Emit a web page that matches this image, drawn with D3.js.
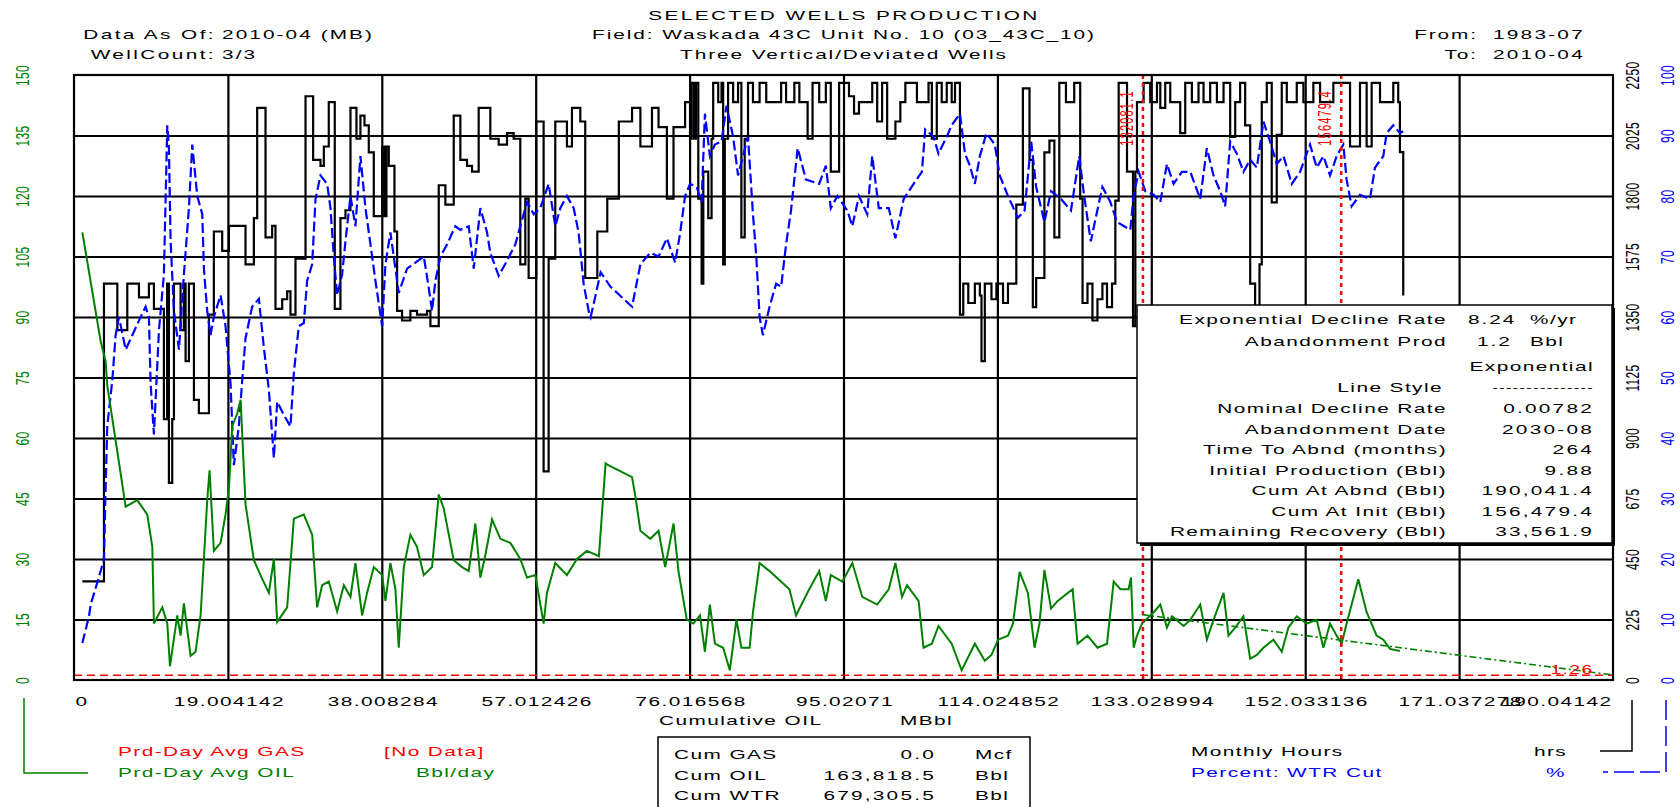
<!DOCTYPE html>
<html><head><meta charset="utf-8">
<script src="https://cdn.jsdelivr.net/npm/d3@7"></script>
<style>body{margin:0;background:#fff}svg{display:block}text{font-family:"Liberation Sans",Arial,sans-serif}</style>
</head><body><svg id="c" width="1680" height="807"></svg>
<script>
// ---------- data ----------
const xTickValues = [0,19.004142,38.008284,57.012426,76.016568,95.02071,114.024852,133.028994,152.033136,171.037278,190.04142];
const xTickLabels = ["0","19.004142","38.008284","57.012426","76.016568","95.02071","114.024852","133.028994","152.033136","171.037278","190.04142"];
const oilTicks = [0,15,30,45,60,75,90,105,120,135,150];
const hrsTicks = [0,225,450,675,900,1125,1350,1575,1800,2025,2250];
const wcTicks = [0,10,20,30,40,50,60,70,80,90,100];

// Prd-Day Avg OIL (Bbl/day) vs cumulative oil (MBbl)
const oilRate = [[1.03,111],[3.29,84],[3.91,79],[4.11,73],[4.94,62],[6.38,43],[7.81,44.6],[9.05,41],[9.67,33],[9.87,14],[10.9,18],[11.52,14],[11.85,3.4],[12.75,16],[13.16,11],[13.57,19],[14.4,6],[15.01,7],[15.63,16],[16.04,30],[16.45,44.6],[16.74,52],[17.27,32],[18.1,34],[18.71,41],[19.13,47.5],[19.54,63],[20.15,66],[20.57,69.5],[21.18,43.6],[22.21,29.7],[23.03,26],[24.06,21.6],[24.68,30],[25.09,14.4],[26.32,18],[27.15,40],[28.38,41],[29.41,36],[30.02,18],[30.64,23.5],[31.46,24.4],[32.49,17],[33.32,23.5],[34.14,20.6],[34.75,29],[35.58,16],[36.19,21.6],[37.02,28],[38.05,26],[38.46,19.6],[39.07,29],[39.69,22.5],[40.1,8],[40.72,28],[41.54,36],[42.36,33],[43.19,26],[44.21,28],[45.04,46],[45.65,42.6],[46.89,29.7],[47.92,28],[48.74,27],[49.56,38.8],[50.18,25.4],[50.8,31],[51.62,39.8],[52.65,35],[53.88,34],[55.11,30],[55.94,25.4],[56.97,26],[57.99,14],[58.4,21.6],[59.43,29],[60.87,26],[62.11,30],[63.34,32],[64.82,30.7],[65.64,53.7],[65.85,53.4],[68.91,50.3],[69.32,45.5],[69.94,37],[71.16,35],[72.18,37],[73.0,28],[74.03,38.8],[74.64,27],[75.66,15],[76.48,14],[77.3,16],[77.91,7],[78.52,18.7],[79.14,9],[80.16,8],[80.98,2.4],[81.8,15],[82.41,8],[83.43,8],[83.84,16.8],[84.66,29],[85.89,27],[88.34,22.5],[89.16,16],[90.79,22.5],[92.02,27],[92.84,19.6],[93.45,26],[94.88,24.4],[96.11,29],[97.34,20.6],[99.18,18.7],[100.61,22.5],[101.43,29],[102.25,20.6],[102.86,23.5],[104.29,19.6],[104.9,8],[105.93,9],[106.75,13.4],[108.38,9],[109.61,2.4],[111.24,9],[112.47,4.8],[113.29,6.2],[114.11,10],[115.33,11],[115.95,14],[116.77,26.8],[117.79,21.6],[118.61,8],[119.22,14],[119.83,27.3],[120.65,17.7],[121.47,19.6],[123.31,22.5],[123.92,9],[125.15,11],[126.38,8],[127.56,9],[128.38,24.4],[129.21,22.5],[130.23,22.5],[130.52,25.4],[130.85,8],[131.26,11],[131.88,14],[133.32,16.8],[134.14,18.7],[134.96,13],[135.58,15.8],[137.02,13.4],[137.84,14.9],[139.07,18.7],[139.89,10],[140.71,14.9],[141.95,21.6],[142.56,11],[143.39,13],[144.41,15.8],[145.24,5.3],[146.06,6.2],[146.88,8],[148.11,10],[149.14,7],[149.96,13],[150.99,15.8],[152.22,14],[153.46,14.9],[154.28,8],[155.1,14],[155.92,11],[156.54,9],[157.15,14],[158.59,25],[159.62,16.8],[160.85,11],[161.68,10],[162.5,7.7],[163.73,7.2]];

// Percent WTR Cut vs cumulative oil
const waterCut = [[1.03,6.1],[1.85,10.5],[2.06,12.5],[3.08,17],[3.7,20],[3.91,32],[4.11,42],[4.73,49.5],[5.14,57],[5.55,60],[6.38,54.6],[8.23,60],[8.84,61.7],[9.25,60],[9.46,49],[9.87,40.6],[10.49,57.8],[11.1,67],[11.52,91.7],[11.72,88],[11.93,72.5],[12.34,61],[12.96,54.6],[13.57,67],[14.19,78],[14.6,88.5],[15.22,80],[15.84,77],[16.04,68],[16.45,61],[16.86,57],[17.27,60],[18.1,63.6],[18.71,58.5],[19.33,49],[19.74,35.5],[20.36,42],[20.77,49.5],[21.18,56.5],[22.0,61.7],[22.83,63],[23.44,55],[24.06,48],[24.68,36.7],[25.09,46],[25.91,43.8],[26.73,41.9],[27.15,50.8],[27.76,58.5],[28.38,59],[28.79,66],[29.41,68.7],[29.82,79.5],[30.44,83.4],[31.26,82],[31.67,78],[32.08,70],[32.49,63.6],[33.11,67],[33.52,72.5],[34.14,80],[34.75,75],[35.37,86.6],[35.99,78],[36.61,72],[37.22,66],[38.05,58.5],[38.46,68.7],[39.07,74],[39.48,70],[40.1,64],[41.13,68],[43.19,70],[43.8,64.9],[44.21,61],[44.63,66],[45.24,70],[46.07,72],[47.09,75],[47.71,74.4],[48.74,75],[49.36,68],[50.18,78],[51.0,74],[51.41,70.6],[52.44,66.8],[53.47,69.3],[54.5,72],[55.11,75],[55.94,79],[56.76,77],[57.58,78],[58.61,82],[59.43,75],[60.05,78],[60.87,80],[61.7,78],[62.31,74],[62.93,65.5],[63.55,61],[63.8,60],[64.41,63.6],[65.03,67.4],[66.25,65],[68.91,61.7],[69.94,68.7],[71.16,70.6],[72.18,70],[73.21,73],[74.23,69],[74.84,73.8],[75.46,80],[76.07,82],[76.89,81.5],[77.5,79],[77.91,93.6],[78.52,86.6],[79.14,88.5],[79.96,89],[80.57,94.9],[81.39,89.8],[82.0,83.4],[82.61,86.6],[83.23,89.8],[83.84,77],[84.25,70],[84.66,60],[85.07,57],[85.89,61.7],[86.7,65.5],[87.32,65],[87.93,72],[88.54,77.6],[89.36,87.9],[90.39,82.7],[92.02,82],[92.84,85],[93.45,78],[94.27,80],[95.5,77.6],[96.11,75],[96.93,80],[97.95,77],[98.57,86.6],[99.38,78],[100.61,78],[101.43,73],[102.45,79.5],[103.68,82],[104.7,84],[105.11,91],[106.13,89.8],[106.75,87],[107.77,89.8],[108.38,91.7],[109.4,93.6],[110.02,87],[110.63,85],[111.24,82],[111.86,86.6],[112.68,90.4],[113.7,88.5],[114.31,83.4],[115.33,80],[116.56,76.4],[117.38,77.6],[118.2,89],[118.81,81.5],[119.83,75.7],[120.65,80.8],[121.88,79.5],[123.11,77.6],[124.13,86.6],[124.74,80],[125.56,72.5],[126.17,76.4],[126.99,81.5],[127.97,79],[128.8,75.7],[130.44,74.4],[130.85,80.2],[131.47,84],[132.29,80.8],[133.32,80.2],[134.14,79],[134.96,85.3],[135.78,82],[136.81,84],[137.84,84],[139.07,79.5],[139.89,87.9],[140.71,83.4],[141.54,80.8],[142.15,78.3],[142.77,89],[143.59,87],[144.41,84],[145.24,86],[146.06,84.7],[146.88,92.3],[147.7,89],[148.52,85.3],[149.35,86.6],[150.37,82],[151.4,84],[152.63,88.5],[153.46,84.7],[154.28,86.6],[155.1,83.4],[155.92,86.6],[156.74,88.5],[157.15,82.7],[157.77,78.3],[158.8,80.2],[160.03,79.5],[160.65,84.7],[161.68,86.6],[162.09,90.4],[162.91,91.7],[163.73,90.4],[164.14,90.7]];

// Monthly Hours (step) vs cumulative oil
const monthlyHours = [[1.03,367],[3.7,1474],[5.35,1301],[6.58,1474],[8.02,1423],[9.25,1474],[9.87,1380],[11.1,970],[11.5,1474],[11.72,733],[12.13,970],[12.34,1474],[13.16,1301],[13.57,1474],[13.78,1186],[14.19,1474],[14.81,1042],[15.42,992],[16.66,1359],[17.27,1668],[18.3,1596],[19.13,1689],[21.18,1546],[22.21,1718],[22.62,2128],[23.65,1646],[24.47,1689],[24.88,1380],[25.71,1416],[26.32,1445],[26.73,1359],[27.35,1567],[28.59,2171],[29.53,1934],[30.44,1912],[30.85,1984],[31.46,2149],[32.2,1380],[32.9,1718],[33.52,1747],[34.14,2128],[34.88,2013],[35.37,2099],[35.87,2063],[36.4,1962],[37.02,1725],[38.05,1984],[38.33,1725],[38.58,1984],[38.87,1912],[39.57,1668],[39.9,1373],[40.51,1337],[41.54,1373],[42.36,1359],[43.6,1373],[44.01,1316],[45.04,1840],[45.86,1768],[46.89,2099],[47.71,1934],[48.53,1912],[49.15,1891],[49.97,2128],[51.41,2013],[52.44,1991],[53.47,2034],[54.29,2013],[55.11,1546],[55.73,1790],[56.14,1495],[57.09,2077],[57.99,776],[58.61,1567],[59.43,2077],[60.87,1984],[61.49,2128],[62.52,2077],[63.13,1495],[64.62,1668],[65.85,1790],[67.28,2077],[68.91,2128],[69.94,1984],[71.37,2128],[72.18,2056],[73.21,1790],[74.03,2056],[75.46,2149],[76.07,2013],[76.27,2221],[76.56,2013],[76.8,2221],[77.09,1790],[77.5,1474],[77.71,1891],[78.32,1718],[78.73,2013],[78.93,2221],[79.55,2149],[79.96,2221],[80.16,1546],[80.36,2013],[80.77,2221],[81.39,2149],[82.0,2221],[82.41,1646],[82.82,2013],[83.23,2221],[83.84,2149],[84.66,2221],[85.48,2149],[87.32,2221],[87.93,2149],[88.95,2221],[89.57,2149],[90.59,2013],[91.2,2221],[92.02,2149],[92.84,2221],[93.45,1891],[94.48,2221],[95.7,2171],[96.32,2106],[96.93,2149],[98.57,2221],[99.18,2077],[99.79,2221],[100.41,2013],[101.43,2077],[102.04,2149],[102.66,2221],[104.09,2149],[105.52,2221],[105.93,2013],[106.54,2221],[107.15,2149],[107.77,2221],[108.38,2149],[108.79,2221],[109.4,1359],[109.81,1474],[110.43,1402],[111.24,1474],[111.86,1430],[112.06,1186],[112.47,1474],[113.29,1416],[113.9,1474],[114.72,1402],[115.33,1474],[116.36,1768],[117.17,2200],[117.99,1934],[118.4,1387],[118.81,1495],[119.83,1962],[120.45,2006],[121.06,1646],[121.67,2221],[122.49,2149],[123.51,2221],[124.25,1790],[124.54,1402],[125.15,1474],[125.76,1337],[126.38,1416],[126.99,1474],[127.56,1387],[128.18,1474],[128.59,1783],[129.0,2221],[130.03,1891],[130.77,1316],[131.06,1891],[131.26,2149],[132.08,2221],[132.9,2149],[133.73,2221],[134.14,2128],[134.75,2221],[135.37,2149],[136.6,2034],[137.22,2221],[138.04,2149],[138.86,2221],[139.48,2149],[140.3,2221],[141.13,2149],[141.95,2221],[142.77,2020],[143.39,2149],[144.0,2221],[144.62,2063],[145.24,1474],[145.85,1387],[146.39,1546],[146.67,2149],[147.29,2221],[147.9,1776],[148.52,2027],[149.14,2221],[149.76,2149],[150.99,2221],[151.81,2149],[153.04,2221],[153.87,2149],[155.51,2221],[157.57,1984],[158.8,2221],[159.62,1984],[160.24,2221],[161.27,2149],[162.91,2221],[163.52,2149],[163.73,1963],[164.14,1430]];

// Exponential forecast (Bbl/day) vs cumulative oil
const forecast = [[131.9,16.2],[156.479,9.88],[190.041,1.26]];
const fitMarks = [132.0, 156.48];
const fitLabels = ["132081.1","156479.4"];
const abandonRate = 1.2;

const declineRows = [["Nominal Decline Rate","0.00782"],["Abandonment Date","2030-08"],["Time To Abnd (months)","264"],["Initial Production (Bbl)","9.88"],["Cum At Abnd (Bbl)","190,041.4"],["Cum At Init (Bbl)","156,479.4"],["Remaining Recovery (Bbl)","33,561.9"]];
const cumRows = [["Cum GAS","0.0","Mcf"],["Cum OIL","163,818.5","Bbl"],["Cum WTR","679,305.5","Bbl"]];

// ---------- drawing ----------
const svg = d3.select("#c");
const L=74, R=1613, T=75, B=680;
const SX = 1.6, LS = 0.9;
const GREEN="#008000", BLUE="#0000ff", RED="#ff0000";

const x = d3.scaleLinear().domain([0,190.04142]).range([L,R]);
const yOil = d3.scaleLinear().domain([0,150]).range([B,T]);
const yHrs = d3.scaleLinear().domain([0,2250]).range([B,T]);
const yWc = d3.scaleLinear().domain([0,100]).range([B,T]);

function txt(g,px,py,s,o={}){
  return g.append("text")
    .attr("transform",`translate(${px},${py}) scale(${SX},1)`+(o.rot?" rotate(-90)":""))
    .attr("text-anchor",o.a||"start").attr("dominant-baseline","central")
    .attr("font-size",o.fs||13).attr("letter-spacing",o.ls!==undefined?o.ls:LS)
    .attr("fill",o.c||"#000").text(s);
}

svg.append("defs").append("clipPath").attr("id","pc").append("rect")
  .attr("x",L).attr("y",T).attr("width",R-L).attr("height",B-T);

// gridlines
svg.append("g").attr("transform",`translate(0,${B})`)
  .call(d3.axisBottom(x).tickValues(xTickValues.slice(1,-1)).tickSize(-(B-T)).tickFormat(""))
  .call(g=>g.select(".domain").remove())
  .call(g=>g.selectAll("line").attr("stroke","#000").attr("stroke-width",2.2));
svg.append("g").attr("transform",`translate(${L},0)`)
  .call(d3.axisLeft(yOil).tickValues(oilTicks.slice(1,-1)).tickSize(-(R-L)).tickFormat(""))
  .call(g=>g.select(".domain").remove())
  .call(g=>g.selectAll("line").attr("stroke","#000").attr("stroke-width",1.8));

const plot = svg.append("g").attr("clip-path","url(#pc)");
// abandonment rate line
plot.append("line").attr("x1",L).attr("x2",R).attr("y1",yOil(abandonRate)).attr("y2",yOil(abandonRate))
  .attr("stroke",RED).attr("stroke-width",1.5).attr("stroke-dasharray","8,5");

// monthly hours
plot.append("path").datum(monthlyHours)
  .attr("d",d3.line().x(d=>x(d[0])).y(d=>yHrs(d[1])).curve(d3.curveStepAfter))
  .attr("fill","none").attr("stroke","#000").attr("stroke-width",2.2);
// water cut
plot.append("path").datum(waterCut)
  .attr("d",d3.line().x(d=>x(d[0])).y(d=>yWc(d[1])))
  .attr("fill","none").attr("stroke",BLUE).attr("stroke-width",2.2).attr("stroke-dasharray","10,4");
// oil rate
plot.append("path").datum(oilRate)
  .attr("d",d3.line().x(d=>x(d[0])).y(d=>yOil(d[1])))
  .attr("fill","none").attr("stroke",GREEN).attr("stroke-width",2);
// forecast
plot.append("path").datum(forecast)
  .attr("d",d3.line().x(d=>x(d[0])).y(d=>yOil(d[1])))
  .attr("fill","none").attr("stroke",GREEN).attr("stroke-width",1.6).attr("stroke-dasharray","7,3,2,3");

// fit markers
fitMarks.forEach((m,i)=>{
  plot.append("line").attr("x1",x(m)).attr("x2",x(m)).attr("y1",T).attr("y2",B)
    .attr("stroke",RED).attr("stroke-width",2.5).attr("stroke-dasharray","4,4");
  svg.append("line").attr("x1",x(m)).attr("x2",x(m)).attr("y1",B-6).attr("y2",B)
    .attr("stroke",RED).attr("stroke-width",1.5);
  txt(svg,x(m)-16,118,fitLabels[i],{rot:true,a:"middle",c:RED,fs:11,ls:1.2});
});

// plot border
svg.append("rect").attr("x",L).attr("y",T).attr("width",R-L).attr("height",B-T)
  .attr("fill","none").attr("stroke","#000").attr("stroke-width",2.2);

// end rate label
txt(svg,x(forecast[2][0])-41,B-10,"1.26",{a:"middle",c:RED,fs:12});

// decline box
const bx=1137, by=305, bw=475, bh=238;
svg.append("rect").attr("x",bx+3).attr("y",by+3).attr("width",bw).attr("height",bh).attr("fill","#000");
svg.append("rect").attr("x",bx).attr("y",by).attr("width",bw).attr("height",bh)
  .attr("fill","#fff").attr("stroke","#000").attr("stroke-width",1.5);
const db = svg.append("g");
txt(db,1447,320,"Exponential Decline Rate",{a:"end"});
txt(db,1468,320,"8.24",{ls:1.2}); txt(db,1530,320,"%/yr");
txt(db,1447,342,"Abandonment Prod",{a:"end"});
txt(db,1477,342,"1.2",{ls:1.2}); txt(db,1530,342,"Bbl");
txt(db,1594,367,"Exponential",{a:"end"});
txt(db,1443,388,"Line Style",{a:"end"});
txt(db,1594,388,"---------------",{a:"end",fs:10});
declineRows.forEach((r,i)=>{
  const yy = 409 + i*20.5;
  txt(db,1447,yy,r[0],{a:"end"});
  txt(db,1594,yy,r[1],{a:"end",ls:1.4});
});

// axes: x labels (first left-aligned, last right-aligned at plot edges)
const nX = xTickValues.length;
svg.append("g").attr("transform",`translate(0,${B})`)
  .call(d3.axisBottom(x).tickValues(xTickValues).tickSize(0).tickFormat((d,i)=>xTickLabels[i]))
  .call(g=>g.select(".domain").remove())
  .call(g=>g.selectAll("text").attr("y",null).attr("dy",null)
    .attr("text-anchor",(d,i)=>i===0?"start":(i===nX-1?"end":"middle"))
    .attr("transform",(d,i)=>`translate(${i===0?1:(i===nX-1?-1:1)},22) scale(${SX},1)`)
    .attr("dominant-baseline","central")
    .attr("font-size",13).attr("letter-spacing",0.9).attr("fill","#000")
    .attr("font-family","Liberation Sans, Arial, sans-serif"));
txt(svg,659,721,"Cumulative OIL");
txt(svg,900,721,"MBbl");

function yAxis(scale,ticks,px,color){
  svg.append("g").attr("transform",`translate(${px},0)`)
    .call(d3.axisLeft(scale).tickValues(ticks).tickSize(0).tickFormat(d3.format("d")))
    .call(g=>g.select(".domain").remove())
    .call(g=>g.selectAll("text").attr("x",null).attr("dy",null)
      .attr("transform",`scale(${SX},1) rotate(-90)`).attr("text-anchor","middle")
      .attr("dominant-baseline","central").attr("font-size",12).attr("letter-spacing",0.3)
      .attr("fill",color).attr("font-family","Liberation Sans, Arial, sans-serif"));
}
yAxis(yOil,oilTicks,22,GREEN);
yAxis(yHrs,hrsTicks,1632,"#000");
yAxis(yWc,wcTicks,1667,BLUE);

// header
txt(svg,844,16,"SELECTED WELLS PRODUCTION",{a:"middle",ls:1.5});
txt(svg,844,35,"Field: Waskada 43C Unit No. 10 (03_43C_10)",{a:"middle",ls:1.2});
txt(svg,844,55,"Three Vertical/Deviated Wells",{a:"middle",ls:1.2});
txt(svg,216,35,"Data As Of:",{a:"end",ls:1.5});
txt(svg,222,35,"2010-04 (MB)",{ls:1.3});
txt(svg,216,55,"WellCount:",{a:"end",ls:1.5});
txt(svg,222,55,"3/3",{ls:1.3});
txt(svg,1478,35,"From:",{a:"end",ls:1.2});
txt(svg,1493,35,"1983-07",{ls:1.4});
txt(svg,1478,55,"To:",{a:"end",ls:1.2});
txt(svg,1493,55,"2010-04",{ls:1.4});

// legends
svg.append("path").attr("d","M24,698 V773 H88").attr("fill","none").attr("stroke",GREEN).attr("stroke-width",1.5);
txt(svg,118,752,"Prd-Day Avg GAS",{c:RED});
txt(svg,384,752,"[No Data]",{c:RED});
txt(svg,118,773,"Prd-Day Avg OIL",{c:GREEN});
txt(svg,416,773,"Bbl/day",{c:GREEN});

svg.append("path").attr("d","M1632,700 V751 H1600").attr("fill","none").attr("stroke","#000").attr("stroke-width",1.5);
svg.append("path").attr("d","M1666,700 V772 H1603").attr("fill","none").attr("stroke",BLUE).attr("stroke-width",1.5).attr("stroke-dasharray","20,6");
txt(svg,1191,752,"Monthly Hours");
txt(svg,1534,752,"hrs");
txt(svg,1191,773,"Percent: WTR Cut",{c:BLUE});
txt(svg,1546,773,"%",{c:BLUE});

// cum box
svg.append("rect").attr("x",658).attr("y",737).attr("width",372).attr("height",90)
  .attr("fill","#fff").attr("stroke","#000").attr("stroke-width",1.5);
cumRows.forEach((r,i)=>{
  const yy=755+i*20.5;
  txt(svg,674,yy,r[0]);
  txt(svg,936,yy,r[1],{a:"end",ls:1.4});
  txt(svg,975,yy,r[2]);
});
</script></body></html>
